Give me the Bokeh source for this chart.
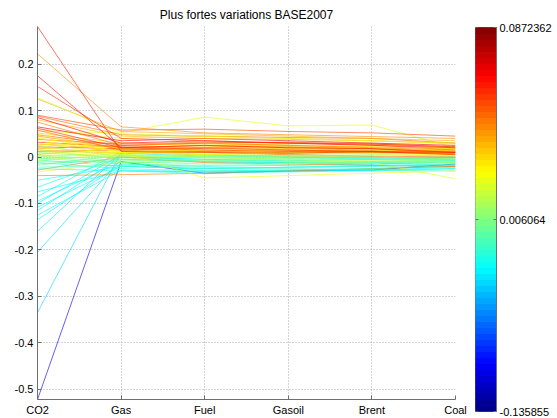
import numpy as np
from bokeh.plotting import figure
from bokeh.layouts import row
from bokeh.models import Range1d, FixedTicker
from bokeh.embed import file_html
from bokeh.resources import INLINE

# Axis categories (parallel coordinates)
categories = ["CO2", "Gas", "Fuel", "Gasoil", "Brent", "Coal"]

# One value per line for each category
co2 = [0.281, 0.222, 0.175, 0.152, 0.128, 0.125, 0.090, 0.088, 0.085, 0.080,
       0.075, 0.065, 0.062, 0.060, 0.058, 0.055, 0.052, 0.050, 0.048, 0.045,
       0.042, 0.040, 0.038, 0.035, 0.032, 0.030, 0.028, 0.026, 0.025, 0.022,
       0.020, 0.018, 0.016, 0.015, 0.012, 0.010, 0.008, 0.006, 0.005, 0.004,
       0.002, 0.000, -0.002, -0.004, -0.006, -0.008, -0.010, -0.012, -0.015, -0.018,
       -0.022, -0.025, -0.028, -0.032, -0.040, -0.050, -0.065, -0.075, -0.085, -0.095,
       -0.100, -0.108, -0.115, -0.125, -0.135, -0.160, -0.205, -0.335, -0.522]
gas = [0.012, 0.065, 0.020, 0.040, 0.050, 0.055, 0.058, 0.048, 0.030, 0.045,
       0.025, 0.035, 0.020, 0.040, 0.015, 0.052, 0.030, 0.010, 0.025, 0.020,
       0.010, 0.018, 0.028, 0.012, 0.022, 0.005, 0.015, 0.030, 0.000, 0.018,
       0.010, 0.025, -0.005, 0.008, 0.015, -0.002, 0.012, 0.020, -0.008, 0.005,
       -0.012, 0.010, -0.015, 0.002, -0.020, 0.008, -0.010, -0.025, -0.005, 0.004,
       -0.018, -0.030, 0.000, -0.012, -0.038, -0.020, 0.000, -0.030, 0.012, -0.010,
       0.005, -0.020, 0.000, -0.028, -0.015, 0.008, -0.005, 0.010, -0.010]
fuel = [0.010, 0.052, 0.025, 0.035, 0.045, 0.050, 0.060, 0.045, 0.035, 0.040,
        0.030, 0.040, 0.015, 0.045, 0.020, 0.086, 0.025, 0.005, 0.030, 0.025,
        -0.045, 0.022, 0.032, 0.015, 0.018, 0.010, 0.020, 0.028, 0.005, 0.012,
        0.015, 0.020, 0.000, 0.012, 0.010, 0.002, 0.008, 0.025, -0.005, 0.000,
        -0.010, 0.005, -0.018, -0.002, -0.025, 0.012, -0.015, -0.030, -0.008, 0.000,
        -0.022, -0.035, -0.012, -0.008, -0.035, -0.025, -0.005, -0.032, 0.005, -0.030,
        -0.010, -0.025, -0.005, -0.032, -0.020, 0.002, -0.010, 0.005, -0.035]
gasoil = [0.008, 0.048, 0.020, 0.030, 0.040, 0.045, 0.055, 0.042, 0.030, 0.038,
          0.025, 0.035, 0.012, 0.040, 0.015, 0.067, 0.028, 0.008, 0.032, 0.020,
          -0.040, 0.025, 0.030, 0.018, 0.015, 0.012, 0.022, 0.025, 0.008, 0.010,
          0.012, 0.018, 0.002, 0.015, 0.005, 0.005, 0.010, 0.022, -0.002, -0.005,
          -0.008, 0.002, -0.015, -0.006, -0.022, 0.010, -0.012, -0.028, -0.005, -0.003,
          -0.025, -0.032, -0.015, -0.010, -0.030, -0.022, -0.010, -0.030, 0.000, -0.028,
          -0.012, -0.022, -0.008, -0.030, -0.018, 0.000, -0.012, 0.002, -0.030]
brent = [0.012, 0.044, 0.018, 0.028, 0.035, 0.040, 0.052, 0.040, 0.025, 0.035,
         0.020, 0.030, 0.010, 0.035, 0.012, 0.069, 0.030, 0.010, 0.028, 0.018,
         -0.035, 0.022, 0.026, 0.020, 0.012, 0.015, 0.018, 0.022, 0.010, 0.014,
         0.008, 0.015, 0.005, 0.012, 0.002, 0.008, 0.012, 0.018, 0.000, -0.008,
         -0.005, 0.000, -0.012, -0.010, -0.020, 0.006, -0.010, -0.025, -0.002, -0.006,
         -0.028, -0.030, -0.018, -0.012, -0.025, -0.018, -0.012, -0.028, -0.004, -0.025,
         -0.010, -0.020, -0.005, -0.028, -0.015, -0.002, -0.015, 0.000, -0.028]
coal = [0.005, 0.040, 0.010, 0.022, 0.030, 0.035, 0.045, 0.030, 0.020, 0.030,
        0.015, 0.025, 0.008, 0.028, 0.010, 0.020, 0.020, 0.005, 0.022, 0.012,
        -0.030, 0.018, 0.015, 0.012, 0.010, 0.008, 0.005, 0.018, 0.006, 0.010,
        0.004, 0.012, 0.002, 0.008, 0.000, 0.010, 0.015, 0.012, -0.005, -0.010,
        -0.002, -0.004, -0.010, -0.012, -0.015, 0.002, -0.005, -0.018, 0.000, -0.008,
        -0.030, -0.025, -0.020, -0.047, -0.020, -0.015, -0.008, -0.022, -0.006, -0.020,
        -0.008, -0.018, -0.002, -0.025, -0.012, 0.000, -0.010, -0.005, -0.015]

# Colour variable for each line
score = [0.062, 0.045, 0.064, 0.060, 0.021, 0.040, 0.056, 0.050, 0.066, 0.038,
         0.048, 0.070, 0.060, 0.030, 0.052, 0.022, 0.035, 0.027, 0.055, 0.045,
         0.024, 0.035, 0.050, 0.025, 0.060, 0.020, 0.040, 0.032, 0.012, 0.055,
         0.028, 0.045, 0.010, 0.038, 0.050, 0.008, 0.025, 0.042, 0.005, 0.018,
         0.000, 0.030, -0.005, 0.015, -0.010, 0.020, 0.002, -0.015, -0.008, 0.004,
         -0.012, -0.020, 0.048, 0.022, 0.047, -0.025, -0.028, -0.030, -0.026, -0.030,
         -0.035, -0.030, -0.032, -0.028, -0.033, -0.036, -0.038, -0.040, -0.105]

# Colour scale limits, tick positions and labels
cmin, cmid, cmax = -0.135855, 0.006064, 0.0872362
cbar_ticks = [0, 0.5, 1]
cbar_labels = {0: "-0.135855", 0.5: "0.006064", 1: "0.0872362"}


def jet(t):
    t = np.clip(np.asarray(t, dtype=float), 0, 1)
    r = np.clip(1.5 - np.abs(4 * t - 3), 0, 1)
    g = np.clip(1.5 - np.abs(4 * t - 2), 0, 1)
    b = np.clip(1.5 - np.abs(4 * t - 1), 0, 1)
    return ["#%02x%02x%02x" % (int(round(rr * 255)), int(round(gg * 255)), int(round(bb * 255)))
            for rr, gg, bb in zip(np.atleast_1d(r), np.atleast_1d(g), np.atleast_1d(b))]


def to_unit(s):
    s = np.asarray(s, dtype=float)
    lo = 0.5 * (s - cmin) / (cmid - cmin)
    hi = 0.5 + 0.5 * (s - cmid) / (cmax - cmid)
    return np.where(s < cmid, lo, hi)


FONT = "Liberation Sans"
GRID = "#a8a8a8"
AXIS = "#6e6e6e"

table = np.array([co2, gas, fuel, gasoil, brent, coal]).T
xpos = list(range(1, len(categories) + 1))
colors = jet(to_unit(score))
# draw from the last row to the first, so the lowest CO2 lines sit underneath
order = list(range(table.shape[0]))[::-1]
xs = [xpos for _ in order]
ys = [list(table[i]) for i in order]
line_colors = [colors[i] for i in order]

ymin, ymax = float(table.min()), float(table.max())

p = figure(width=470, height=418, output_backend="svg", toolbar_location=None,
           x_range=Range1d(1, len(categories)), y_range=Range1d(ymin, ymax),
           min_border_left=37, min_border_right=15, min_border_top=26, min_border_bottom=19,
           title="Plus fortes variations BASE2007")
p.title.text_font = FONT
p.title.text_font_size = "12px"
p.title.text_font_style = "normal"
p.title.align = "center"
p.title.text_color = "#000000"
p.title.offset = 0
p.outline_line_color = None
p.background_fill_color = "white"
p.border_fill_color = "white"

p.multi_line(xs=xs, ys=ys, line_color=line_colors, line_width=1, line_alpha=0.62)

p.xaxis.ticker = FixedTicker(ticks=xpos)
p.xaxis.major_label_overrides = {i: c for i, c in zip(xpos, categories)}
p.yaxis.ticker = FixedTicker(ticks=[0.2, 0.1, 0, -0.1, -0.2, -0.3, -0.4, -0.5])
p.yaxis.major_label_overrides = {0.2: "0.2", 0.1: "0.1", 0: "0", -0.1: "-0.1", -0.2: "-0.2",
                                 -0.3: "-0.3", -0.4: "-0.4", -0.5: "-0.5"}
for ax in (p.xaxis[0], p.yaxis[0]):
    ax.axis_line_color = AXIS
    ax.major_tick_line_color = AXIS
    ax.major_tick_in = 4
    ax.major_tick_out = 0
    ax.minor_tick_line_color = None
    ax.major_label_text_font = FONT
    ax.major_label_text_font_size = "11px"
    ax.major_label_text_color = "#000000"
    ax.major_label_standoff = 4

p.grid.grid_line_color = GRID
p.grid.grid_line_dash = "1 2"
p.grid.grid_line_width = 1

# Colour bar drawn as stacked quads
levels = np.linspace(0, 1, 65)
level_colors = jet((levels[:-1] + levels[1:]) / 2)
cb = figure(width=87, height=418, output_backend="svg", toolbar_location=None,
            x_range=Range1d(0, 1), y_range=Range1d(0, 1),
            min_border_left=5, min_border_right=61, min_border_top=27, min_border_bottom=7,
            x_axis_location=None, y_axis_location="right")
cb.quad(left=0, right=1, bottom=levels[:-1], top=levels[1:],
        fill_color=level_colors, line_color=level_colors, line_width=1)
# inward tick marks on the left edge of the bar
cb.segment(x0=[0] * len(cbar_ticks), x1=[0.14] * len(cbar_ticks),
           y0=cbar_ticks, y1=cbar_ticks, line_color=AXIS, line_width=1)
cb.outline_line_color = AXIS
cb.grid.visible = False
cb.border_fill_color = "white"
yax = cb.yaxis[0]
yax.ticker = FixedTicker(ticks=cbar_ticks)
yax.major_label_overrides = cbar_labels
yax.axis_line_color = AXIS
yax.major_tick_line_color = AXIS
yax.major_tick_in = 3
yax.major_tick_out = 0
yax.minor_tick_line_color = None
yax.major_label_text_font = FONT
yax.major_label_text_font_size = "11px"
yax.major_label_text_color = "#000000"
yax.major_label_standoff = 3

# let the colour bar keep its own frame instead of aligning with the main plot
for fig in (p, cb):
    if hasattr(fig, "frame_align"):
        fig.frame_align = False

layout = row(p, cb)
layout.spacing = 0
open("out.html", "w").write(file_html(layout, INLINE))
